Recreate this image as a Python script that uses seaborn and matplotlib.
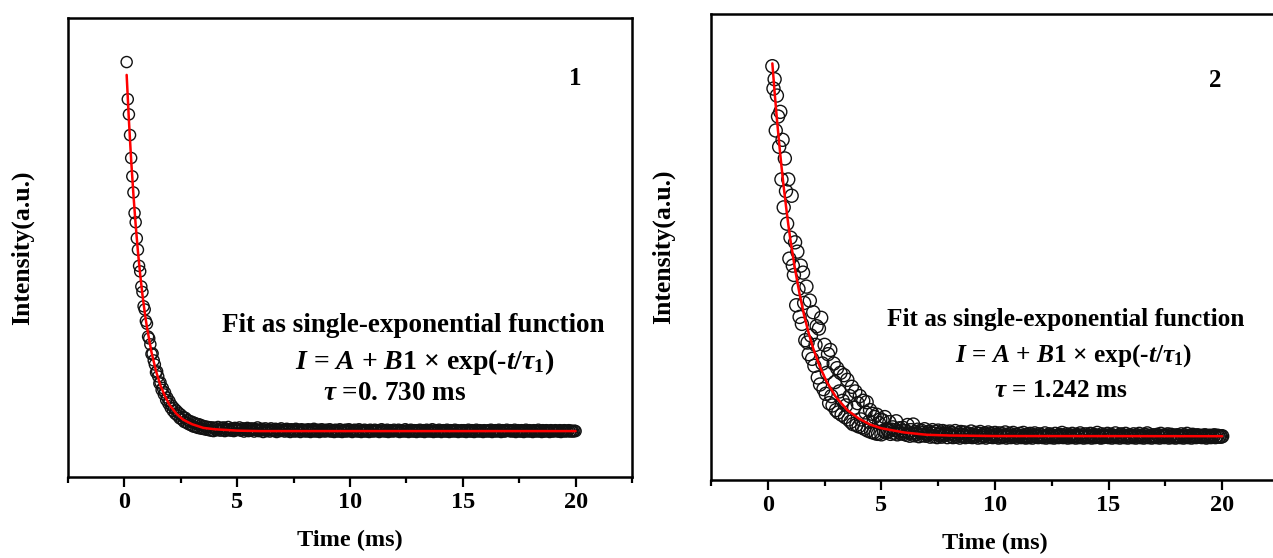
import numpy as np
import pandas as pd
import matplotlib
matplotlib.use("Agg")
import matplotlib.pyplot as plt
from matplotlib.ticker import MultipleLocator
import seaborn as sns

# ---------------- data (arbitrary intensity units) ----------------
# panel 1: measurement grid (ms)
t1_early = np.round(np.arange(0.10, 4.001, 0.05), 2)
t1_late = np.round(np.arange(4.05, 20.001, 0.05), 2)
y1_early = [
    90.4, 82.3, 79.0, 74.5, 69.5, 65.5, 62.0, 57.5, 55.5, 52.0,
    49.5, 46.0, 44.8, 41.5, 40.3, 37.2, 36.5, 34.0, 33.4, 30.6,
    30.2, 28.9, 26.8, 26.9, 25.4, 24.5, 22.8, 23.0, 21.9, 20.4,
    20.6, 19.0, 19.4, 18.0, 18.4, 16.8, 17.3, 16.0, 16.5, 15.1,
    15.6, 14.4, 15.0, 13.8, 14.5, 13.4, 14.0, 12.8, 13.6, 12.5,
    13.1, 12.0, 12.9, 11.8, 12.4, 11.5, 12.2, 11.3, 12.0, 11.0,
    11.8, 10.9, 11.6, 10.7, 11.5, 10.6, 11.3, 10.5, 11.1, 10.4,
    11.0, 10.3, 10.9, 10.2, 10.8, 10.1, 10.8, 10.0, 10.7,
]
y1_late = [
    10.6, 10.2, 10.9, 10.4, 10.1, 10.7, 10.3, 10.8, 10.0, 10.5, 10.2, 10.9, 10.4, 10.1, 10.6, 10.3, 10.0, 10.7, 10.2, 10.5,
    10.4, 10.8, 10.1, 10.3, 10.6, 9.9, 10.5, 10.2, 10.7, 10.0, 10.4, 10.1, 10.6, 10.3, 9.9, 10.5, 10.2, 10.8, 10.0, 10.3,
    10.1, 10.5, 9.8, 10.3, 10.6, 10.0, 10.2, 10.4, 9.9, 10.6, 10.1, 10.3, 10.0, 10.5, 9.8, 10.2, 10.4, 10.0, 10.6, 10.1,
    10.3, 9.9, 10.2, 10.5, 10.0, 10.3, 9.8, 10.4, 10.1, 10.2, 9.9, 10.5, 10.0, 10.3, 10.1, 9.8, 10.4, 10.2, 10.0, 10.3,
    9.9, 10.2, 10.4, 10.0, 9.8, 10.3, 10.1, 10.5, 9.9, 10.2, 10.0, 10.3, 9.8, 10.1, 10.4, 10.0, 10.2, 9.9, 10.3, 10.1,
    10.0, 10.4, 9.9, 10.2, 10.1, 9.8, 10.3, 10.0, 10.2, 9.9, 10.4, 10.1, 9.8, 10.2, 10.0, 10.3, 9.9, 10.1, 10.4, 10.0,
    10.2, 9.8, 10.1, 10.3, 10.0, 10.2, 9.9, 10.4, 10.1, 9.8, 10.2, 10.0, 10.3, 9.9, 10.1, 10.2, 9.8, 10.3, 10.0, 10.1,
    9.9, 10.3, 10.1, 10.0, 10.2, 9.8, 10.1, 10.4, 10.0, 10.2, 9.9, 10.1, 10.3, 9.8, 10.0, 10.2, 10.1, 9.9, 10.3, 10.0,
    10.1, 10.0, 10.3, 9.8, 10.2, 10.0, 10.1, 9.9, 10.4, 10.0, 10.2, 9.8, 10.1, 10.3, 10.0, 9.9, 10.2, 10.1, 9.8, 10.2,
    10.0, 10.3, 9.9, 10.1, 10.2, 9.8, 10.0, 10.3, 10.1, 9.9, 10.2, 10.0, 10.4, 9.8, 10.1, 10.2, 9.9, 10.0, 10.3, 10.1,
    9.8, 10.1, 10.2, 10.0, 9.9, 10.3, 10.1, 9.8, 10.2, 10.0, 10.1, 9.9, 10.3, 10.0, 10.2, 9.8, 10.1, 10.0, 10.2, 9.9,
    10.2, 10.0, 9.8, 10.1, 10.3, 10.0, 9.9, 10.2, 10.1, 9.8, 10.0, 10.3, 10.1, 9.9, 10.2, 10.0, 10.1, 9.8, 10.2, 10.0,
    10.1, 9.9, 10.2, 10.0, 10.3, 9.8, 10.1, 10.0, 10.2, 9.9, 10.1, 10.3, 10.0, 9.8, 10.2, 10.1, 9.9, 10.0, 10.3, 10.1,
    10.0, 10.2, 9.9, 10.1, 10.0, 10.3, 9.8, 10.1, 10.2, 10.0, 9.9, 10.2, 10.1, 9.8, 10.0, 10.3, 10.1, 9.9, 10.2, 10.0,
    10.1, 9.8, 10.2, 10.0, 10.1, 9.9, 10.3, 10.0, 10.1, 9.8, 10.2, 10.0, 9.9, 10.2, 10.1, 10.0, 9.8, 10.2, 10.1, 9.9,
    10.0, 10.2, 10.1, 9.9, 10.0, 10.2, 9.8, 10.1, 10.0, 10.2, 9.9, 10.1, 10.0, 10.2, 9.9, 10.1, 10.0, 9.9, 10.1, 10.0,
]
fit1_t = [0.10, 0.20, 0.30, 0.40, 0.50, 0.60, 0.70, 0.80, 0.90, 1.00, 1.2, 1.4,
          1.6, 1.8, 2.0, 2.3, 2.6, 3.0, 3.5, 4.0, 5.0, 6.0, 8.0, 20.0]
fit1_y = [87.6, 77.7, 69.0, 61.5, 54.9, 49.1, 44.1, 39.7, 35.9, 32.6, 27.2, 23.1,
          19.9, 17.6, 15.7, 13.8, 12.5, 11.5, 10.7, 10.4, 10.1, 10.0, 10.0, 10.0]

# panel 2
t2_early = np.round(np.arange(0.20, 5.001, 0.05), 2)
t2_late = np.round(np.arange(5.05, 20.001, 0.05), 2)
y2_early = [
    88.8, 84.0, 86.0, 75.0, 82.5, 78.0, 71.5, 79.0, 64.5, 73.0,
    58.5, 69.0, 62.0, 55.0, 64.5, 47.5, 52.0, 61.0, 46.0, 44.0,
    51.0, 37.5, 49.0, 41.0, 35.0, 46.0, 33.5, 44.5, 38.0, 30.0,
    41.5, 29.5, 27.0, 38.5, 31.0, 26.0, 36.0, 24.5, 29.0, 33.0,
    22.0, 32.5, 20.5, 34.8, 25.0, 19.5, 29.0, 18.5, 23.0, 27.0,
    16.5, 27.9, 18.0, 16.0, 25.0, 21.0, 15.0, 24.0, 14.5, 19.0,
    23.0, 14.0, 17.0, 22.5, 13.5, 16.0, 21.5, 13.0, 18.0, 12.5,
    20.0, 12.0, 15.5, 19.0, 11.8, 16.5, 11.5, 18.0, 13.0, 11.3,
    17.0, 11.0, 14.5, 16.7, 10.6, 12.5, 15.0, 10.3, 14.2, 10.2,
    13.5, 10.0, 14.0, 9.9, 12.2, 13.0, 9.8,
]
y2_late = [
    12.8, 10.6, 13.5, 10.2, 11.0, 10.5, 12.4, 9.9, 10.8, 11.3, 10.1, 10.7, 12.6, 9.8, 10.4, 11.1, 10.0, 10.6, 11.2, 9.9,
    10.5, 9.7, 11.8, 10.2, 9.5, 10.7, 10.0, 11.9, 9.6, 10.3, 9.9, 10.8, 9.4, 10.2, 10.6, 9.6, 10.1, 10.9, 9.5, 10.0,
    9.8, 10.4, 9.3, 10.1, 10.7, 9.4, 9.9, 10.3, 9.2, 10.6, 9.7, 10.0, 9.3, 10.5, 9.6, 9.9, 10.3, 9.2, 9.8, 10.4,
    9.5, 10.1, 9.2, 9.8, 10.5, 9.3, 9.7, 10.0, 9.1, 10.3, 9.6, 9.4, 10.2, 9.2, 9.8, 10.0, 9.3, 9.6, 10.4, 9.2,
    9.7, 9.3, 10.1, 9.5, 9.1, 9.9, 10.3, 9.2, 9.6, 9.4, 10.0, 9.1, 9.7, 10.2, 9.3, 9.5, 9.9, 9.2, 9.6, 10.1,
    9.3, 9.7, 9.1, 10.0, 9.4, 9.2, 9.8, 9.5, 10.2, 9.1, 9.6, 9.3, 9.9, 9.2, 9.5, 10.1, 9.3, 9.7, 9.1, 9.6,
    9.4, 9.9, 9.2, 9.5, 10.1, 9.3, 9.1, 9.7, 9.4, 9.2, 9.9, 9.5, 9.1, 9.6, 10.0, 9.3, 9.4, 9.2, 9.8, 9.3,
    9.6, 9.2, 9.4, 10.0, 9.1, 9.5, 9.3, 9.8, 9.2, 9.6, 9.4, 9.1, 9.9, 9.3, 9.5, 9.2, 9.7, 9.4, 10.1, 9.2,
    9.5, 9.3, 9.8, 9.1, 9.4, 9.6, 9.2, 9.9, 9.3, 9.5, 9.1, 9.7, 9.4, 9.2, 10.0, 9.3, 9.6, 9.1, 9.4, 9.8,
    9.2, 9.5, 9.3, 9.9, 9.1, 9.4, 9.7, 9.2, 9.5, 10.1, 9.3, 9.4, 9.1, 9.8, 9.2, 9.6, 9.3, 9.5, 9.9, 9.2,
    9.4, 9.7, 9.1, 9.5, 9.3, 10.0, 9.2, 9.4, 9.6, 9.1, 9.8, 9.3, 9.5, 9.2, 9.9, 9.4, 9.1, 9.6, 9.3, 9.5,
    9.2, 9.8, 9.4, 9.1, 9.6, 9.3, 9.9, 9.2, 9.5, 9.4, 9.1, 9.7, 9.3, 10.0, 9.2, 9.5, 9.4, 9.1, 9.6, 9.3,
    9.5, 9.2, 9.7, 9.4, 9.1, 9.9, 9.3, 9.5, 9.2, 9.6, 9.4, 9.8, 9.1, 9.3, 9.7, 9.2, 9.5, 9.4, 9.1, 9.6,
    9.3, 9.5, 9.2, 9.8, 9.4, 9.1, 9.6, 9.3, 9.9, 9.2, 9.4, 9.5, 9.1, 9.7, 9.3, 9.4, 9.2, 9.6, 9.3, 9.5,
    9.4, 9.2, 9.5, 9.3, 9.6, 9.1, 9.4, 9.3, 9.5, 9.2, 9.4, 9.3, 9.6, 9.2, 9.4, 9.5, 9.3, 9.4, 9.3, 9.4,
]
fit2_t = [0.2, 0.3, 0.4, 0.5, 0.6, 0.7, 0.8, 0.9, 1.0, 1.2, 1.4, 1.6, 1.8, 2.0,
          2.3, 2.6, 3.0, 3.5, 4.0, 4.5, 5.0, 6.0, 7.0, 8.0, 10.0, 20.0]
fit2_y = [89.4, 83.2, 77.5, 72.3, 67.4, 62.9, 58.8, 54.9, 51.4, 45.2, 39.9, 35.3,
          31.5, 28.2, 24.2, 21.0, 17.8, 15.0, 13.2, 11.9, 11.1, 10.2, 9.7, 9.55,
          9.43, 9.4]

x_ticks = [0, 5, 10, 15, 20]
x_label = "Time (ms)"
y_label = "Intensity(a.u.)"
fit_title = "Fit as single-exponential function"
fit_formula = r"$I$ = $A$ + $B$1 $\times$ exp(-$t$/$\tau_{1}$)"
tau_texts = [r"$\tau$ =0. 730 ms", r"$\tau$ = 1.242 ms"]
panel_ids = ["1", "2"]

# ---------------- style ----------------
sns.set_style("ticks")
plt.rcParams["font.family"] = ["Liberation Serif", "DejaVu Serif"]
plt.rcParams["font.weight"] = "bold"
plt.rcParams["text.color"] = "black"
plt.rcParams["axes.labelcolor"] = "black"
plt.rcParams["xtick.color"] = "black"
plt.rcParams["mathtext.fontset"] = "custom"
plt.rcParams["mathtext.rm"] = "Liberation Serif:bold"
plt.rcParams["mathtext.it"] = "Liberation Serif:italic:bold"
plt.rcParams["mathtext.bf"] = "Liberation Serif:bold"

W, H = 1273, 558
fig = plt.figure(figsize=(W / 100, H / 100), dpi=100)

def px_axes(l, t, r, b):
    return fig.add_axes([l / W, 1 - b / H, (r - l) / W, (b - t) / H])

ax1 = px_axes(68, 18, 632, 477)
ax2 = px_axes(711, 14, 1279, 480)

panels = [
    dict(ax=ax1, t=np.concatenate([t1_early, t1_late]), y=y1_early + y1_late,
         ft=fit1_t, fy=fit1_y, s=64, ylab_x=-0.060, xlab_y=-0.115,
         fs=(19.5, 20, 19.5),
         txt=[(0.612, 0.329), (0.633, 0.251), (0.580, 0.183), (0.899, 0.869)]),
    dict(ax=ax2, t=np.concatenate([t2_early, t2_late]), y=y2_early + y2_late,
         ft=fit2_t, fy=fit2_y, s=88, ylab_x=-0.064, xlab_y=-0.113,
         fs=(18.2, 18.3, 18.2),
         txt=[(0.625, 0.345), (0.639, 0.268), (0.616, 0.191), (0.887, 0.858)]),
]

for i, p in enumerate(panels):
    ax = p["ax"]
    df = pd.DataFrame({"t": p["t"], "I": p["y"]})
    fdf = pd.DataFrame({"t": p["ft"], "I": p["fy"]})
    sns.scatterplot(data=df, x="t", y="I", ax=ax, marker="o", s=p["s"],
                    facecolor="none", edgecolor="#111111", linewidth=1.0, zorder=2)
    sns.lineplot(data=fdf, x="t", y="I", ax=ax, color="#ff0000", linewidth=1.8,
                 sort=False, estimator=None, zorder=3)
    ax.set_xlim(-2.5, 22.5)
    ax.set_ylim(0, 100)
    ax.set_xticks(x_ticks)
    ax.set_xticklabels([str(v) for v in x_ticks])
    ax.xaxis.set_minor_locator(MultipleLocator(2.5))
    ax.set_yticks([])
    ax.tick_params(axis="x", which="major", direction="out", length=7, width=1.6,
                   pad=4, labelsize=17.5, colors="black")
    ax.tick_params(axis="x", which="minor", direction="out", length=4.5, width=1.6,
                   colors="black")
    for sp in ax.spines.values():
        sp.set_visible(True)
        sp.set_linewidth(1.8)
        sp.set_color("black")
    for lab in ax.get_xticklabels():
        lab.set_fontweight("bold")
    ax.set_xlabel(x_label, fontsize=17.5, fontweight="bold", color="black")
    ax.set_ylabel(y_label, fontsize=18.5, fontweight="bold", color="black")
    ax.xaxis.set_label_coords(0.5, p["xlab_y"])
    ax.yaxis.set_label_coords(p["ylab_x"], 0.5)
    (a, b), (c, d), (e, f), (g, h) = p["txt"]
    f1, f2, f3 = p["fs"]
    ax.text(a, b, fit_title, transform=ax.transAxes, ha="center", va="center",
            fontsize=f1, fontweight="bold", color="black")
    ax.text(c, d, fit_formula, transform=ax.transAxes, ha="center", va="center",
            fontsize=f2, color="black")
    ax.text(e, f, tau_texts[i], transform=ax.transAxes, ha="center", va="center",
            fontsize=f3, fontweight="bold", color="black")
    ax.text(g, h, panel_ids[i], transform=ax.transAxes, ha="center", va="center",
            fontsize=18, fontweight="bold", color="black")

fig.savefig("out.png", dpi=100)
